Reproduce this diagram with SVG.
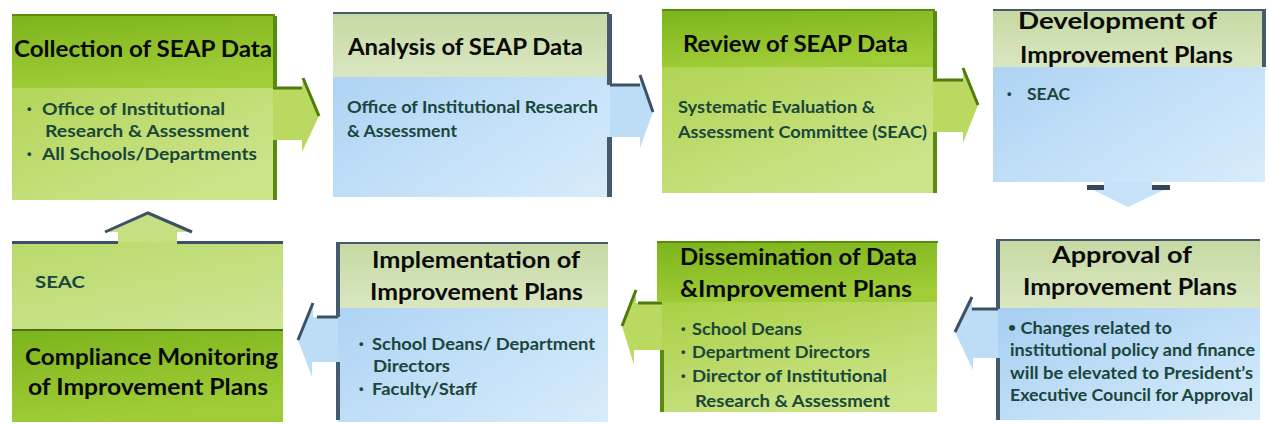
<svg xmlns="http://www.w3.org/2000/svg" width="1269" height="424" viewBox="0 0 1269 424">
<defs>
<linearGradient id="gHeadGreen" x1="0" y1="0" x2="0.3" y2="1">
<stop offset="0" stop-color="#7cb41c"/><stop offset="1" stop-color="#a0cd37"/>
</linearGradient>
<linearGradient id="gBodyGreen" x1="0" y1="0" x2="0.6" y2="1">
<stop offset="0" stop-color="#a9d044"/><stop offset="1" stop-color="#cbe389"/>
</linearGradient>
<linearGradient id="gBodyPale" x1="0" y1="0" x2="0.3" y2="1">
<stop offset="0" stop-color="#b9da6a"/><stop offset="1" stop-color="#d6e9a6"/>
</linearGradient>
<linearGradient id="gHeadPale" x1="0" y1="0" x2="0" y2="1">
<stop offset="0" stop-color="#c6d9a3"/><stop offset="1" stop-color="#d9e7c1"/>
</linearGradient>
<linearGradient id="gBodyBlue" x1="0" y1="0" x2="1" y2="1">
<stop offset="0" stop-color="#a5cef2"/><stop offset="1" stop-color="#d8ecfb"/>
</linearGradient>
<style>
.h{font-family:Lato,"Liberation Sans",sans-serif;font-weight:bold;font-size:22px;fill:#0a0a0a}
.t{font-family:Lato,"Liberation Sans",sans-serif;font-weight:bold;font-size:17px;fill:#1a463b}
.b{font-family:"Liberation Sans",sans-serif;font-weight:bold;font-size:13px;fill:#1a463b}
.dg{fill:#5a8a10}
.ds{fill:#445a6e}
.lg{stroke:#4f7a0c;stroke-width:3;fill:none}
.ls{stroke:#3c5066;stroke-width:3;fill:none}
.ag{fill:#bad960}
.ab{fill:#bddcf6}
</style>
</defs>
<rect width="1269" height="424" fill="#ffffff"/>

<g id="connectors">
<path class="ag" d="M270,88 H302 L303,78 L319,116 L302,152 V140 H270 Z"/>
<path class="lg" d="M273,88 H302 M303,78 L319,116"/>
<path class="ab" d="M607,85 H640 V75 L653,112 L640,148 V137 H607 Z"/>
<path class="ls" d="M610,85 H640 M640,75 L653,112"/>
<path class="ag" d="M930,80 H963 V68 L978,105 L963,143 V132 H930 Z"/>
<path class="lg" d="M933,80 H963 M963,68 L978,105"/>
<path fill="#c6e2f8" d="M1104,178 H1152 V187 H1170 L1128,207 L1087,187 H1104 Z"/>
<rect x="1087" y="185" width="17" height="5" fill="#34465a"/>
<rect x="1152" y="185" width="18" height="5" fill="#34465a"/>
<path fill="#c4e083" d="M118,246 V232 H105 L148,213 L192,232 H177 V246 Z"/>
<path class="ls" d="M105,232 L148,213 L192,232"/>
<path class="ab" d="M341,317 H313 V303 L298,340 L312,377 V362 H341 Z"/>
<path class="ls" d="M317,317 H338 M313,303 L298,340"/>
<path class="ag" d="M665,303 H636 V290 L622,326 L634,365 V350 H665 Z"/>
<path class="lg" d="M638,303 H662 M636,290 L622,326"/>
<path class="ab" d="M1001,309 H972 V297 L955,332 L973,370 V358 H1001 Z"/>
<path class="ls" d="M972,309 H998 M972,297 L955,332"/>
</g>

<g id="node-collection">
<rect x="12" y="15" width="261" height="185" fill="url(#gBodyGreen)"/>
<rect x="12" y="15" width="261" height="73" fill="url(#gHeadGreen)"/>
<rect x="12" y="14" width="263" height="2" class="dg"/>
<rect x="273" y="16" width="4" height="72" class="dg"/>
<rect x="273" y="140" width="4" height="60" class="dg"/>
<text class="h" x="14" y="57" font-size="24" textLength="258" lengthAdjust="spacingAndGlyphs">Collection of SEAP Data</text>
<text class="b" x="27" y="113">•</text>
<text class="t" x="42" y="115" textLength="183" lengthAdjust="spacingAndGlyphs">Office of Institutional</text>
<text class="t" x="45" y="137" textLength="204" lengthAdjust="spacingAndGlyphs">Research &amp; Assessment</text>
<text class="b" x="27" y="158">•</text>
<text class="t" x="42" y="160" textLength="215" lengthAdjust="spacingAndGlyphs">All Schools/Departments</text>
</g>

<g id="node-analysis">
<rect x="333" y="13" width="277" height="184" fill="url(#gBodyBlue)"/>
<rect x="333" y="13" width="274" height="64" fill="url(#gHeadPale)"/>
<rect x="333" y="12" width="276" height="2" class="ds"/>
<rect x="607" y="14" width="5" height="71" class="ds"/>
<rect x="607" y="137" width="5" height="60" class="ds"/>
<text class="h" x="348" y="55" textLength="235" lengthAdjust="spacingAndGlyphs">Analysis of SEAP Data</text>
<text class="t" x="347" y="113" textLength="251" lengthAdjust="spacingAndGlyphs">Office of Institutional Research</text>
<text class="t" x="347" y="137" textLength="110" lengthAdjust="spacingAndGlyphs">&amp; Assessment</text>
</g>

<g id="node-review">
<rect x="662" y="10" width="271" height="183" fill="url(#gBodyGreen)"/>
<rect x="662" y="10" width="271" height="57" fill="url(#gHeadGreen)"/>
<rect x="662" y="9" width="273" height="2" class="dg"/>
<rect x="933" y="11" width="4" height="69" class="dg"/>
<rect x="933" y="132" width="4" height="61" class="dg"/>
<text class="h" x="683" y="52" textLength="225" lengthAdjust="spacingAndGlyphs">Review of SEAP Data</text>
<text class="t" x="678" y="113" textLength="197" lengthAdjust="spacingAndGlyphs">Systematic Evaluation &amp;</text>
<text class="t" x="678" y="138" textLength="249" lengthAdjust="spacingAndGlyphs">Assessment Committee (SEAC)</text>
</g>

<g id="node-development">
<rect x="993" y="10" width="272" height="172" fill="url(#gBodyBlue)"/>
<rect x="993" y="10" width="272" height="57" fill="url(#gHeadPale)"/>
<rect x="993" y="9" width="273" height="2" class="ds"/>
<rect x="1262" y="10" width="4" height="57" class="ds"/>
<text class="h" x="1018" y="29" textLength="199" lengthAdjust="spacingAndGlyphs">Development of</text>
<text class="h" x="1020" y="63" textLength="213" lengthAdjust="spacingAndGlyphs">Improvement Plans</text>
<text class="b" x="1007" y="98">•</text>
<text class="t" x="1027" y="100" textLength="43" lengthAdjust="spacingAndGlyphs">SEAC</text>
</g>

<g id="node-compliance">
<rect x="12" y="242" width="271" height="180" fill="url(#gBodyPale)"/>
<rect x="12" y="330" width="271" height="92" fill="url(#gHeadGreen)"/>
<rect x="12" y="329" width="271" height="2" fill="#4d6e12"/>
<rect x="12" y="241" width="106" height="3" fill="#3c5066"/>
<rect x="177" y="241" width="106" height="3" fill="#3c5066"/>
<text class="t" x="35" y="288" textLength="50" lengthAdjust="spacingAndGlyphs">SEAC</text>
<text class="h" x="25" y="365" textLength="253" lengthAdjust="spacingAndGlyphs">Compliance Monitoring</text>
<text class="h" x="28" y="395" textLength="240" lengthAdjust="spacingAndGlyphs">of Improvement Plans</text>
</g>

<g id="node-implementation">
<rect x="338" y="243" width="270" height="179" fill="url(#gBodyBlue)"/>
<rect x="338" y="243" width="270" height="65" fill="url(#gHeadPale)"/>
<rect x="336" y="242" width="272" height="2" class="ds"/>
<rect x="336" y="243" width="4" height="74" class="ds"/>
<rect x="336" y="362" width="4" height="58" class="ds"/>
<text class="h" x="372" y="268" textLength="208" lengthAdjust="spacingAndGlyphs">Implementation of</text>
<text class="h" x="370" y="300" textLength="213" lengthAdjust="spacingAndGlyphs">Improvement Plans</text>
<text class="b" x="359" y="348">•</text>
<text class="t" x="372" y="350" textLength="223" lengthAdjust="spacingAndGlyphs">School Deans/ Department</text>
<text class="t" x="373" y="372" textLength="77" lengthAdjust="spacingAndGlyphs">Directors</text>
<text class="b" x="359" y="393">•</text>
<text class="t" x="372" y="395" textLength="105" lengthAdjust="spacingAndGlyphs">Faculty/Staff</text>
</g>

<g id="node-dissemination">
<rect x="662" y="302" width="275" height="110" fill="url(#gBodyGreen)"/>
<rect x="657" y="242" width="280" height="60" fill="url(#gHeadGreen)"/>
<rect x="657" y="241" width="281" height="2" class="dg"/>
<rect x="660" y="350" width="4" height="62" class="dg"/>
<text class="h" x="680" y="265" textLength="237" lengthAdjust="spacingAndGlyphs">Dissemination of Data</text>
<text class="h" x="680" y="297" textLength="232" lengthAdjust="spacingAndGlyphs">&amp;Improvement Plans</text>
<text class="b" x="681" y="333">•</text>
<text class="t" x="692" y="335" textLength="110" lengthAdjust="spacingAndGlyphs">School Deans</text>
<text class="b" x="681" y="356">•</text>
<text class="t" x="692" y="358" textLength="178" lengthAdjust="spacingAndGlyphs">Department Directors</text>
<text class="b" x="681" y="380">•</text>
<text class="t" x="692" y="382" textLength="195" lengthAdjust="spacingAndGlyphs">Director of Institutional</text>
<text class="t" x="695" y="407" textLength="195" lengthAdjust="spacingAndGlyphs">Research &amp; Assessment</text>
</g>

<g id="node-approval">
<rect x="998" y="308" width="262" height="112" fill="url(#gBodyBlue)"/>
<rect x="998" y="240" width="262" height="68" fill="url(#gHeadPale)"/>
<rect x="996" y="239" width="264" height="2" class="ds"/>
<rect x="996" y="240" width="4" height="69" class="ds"/>
<rect x="996" y="358" width="4" height="62" class="ds"/>
<text class="h" x="1052" y="263" textLength="140" lengthAdjust="spacingAndGlyphs">Approval of</text>
<text class="h" x="1023" y="295" textLength="214" lengthAdjust="spacingAndGlyphs">Improvement Plans</text>
<text class="t" x="1008" y="334" textLength="164" lengthAdjust="spacingAndGlyphs"><tspan font-size="13" dy="-2">•</tspan><tspan dy="2"> Changes related to</tspan></text>
<text class="t" x="1010" y="356" textLength="245" lengthAdjust="spacingAndGlyphs">institutional policy and finance</text>
<text class="t" x="1010" y="379" textLength="243" lengthAdjust="spacingAndGlyphs">will be elevated to President’s</text>
<text class="t" x="1010" y="401" textLength="243" lengthAdjust="spacingAndGlyphs">Executive Council for Approval</text>
</g>
</svg>
